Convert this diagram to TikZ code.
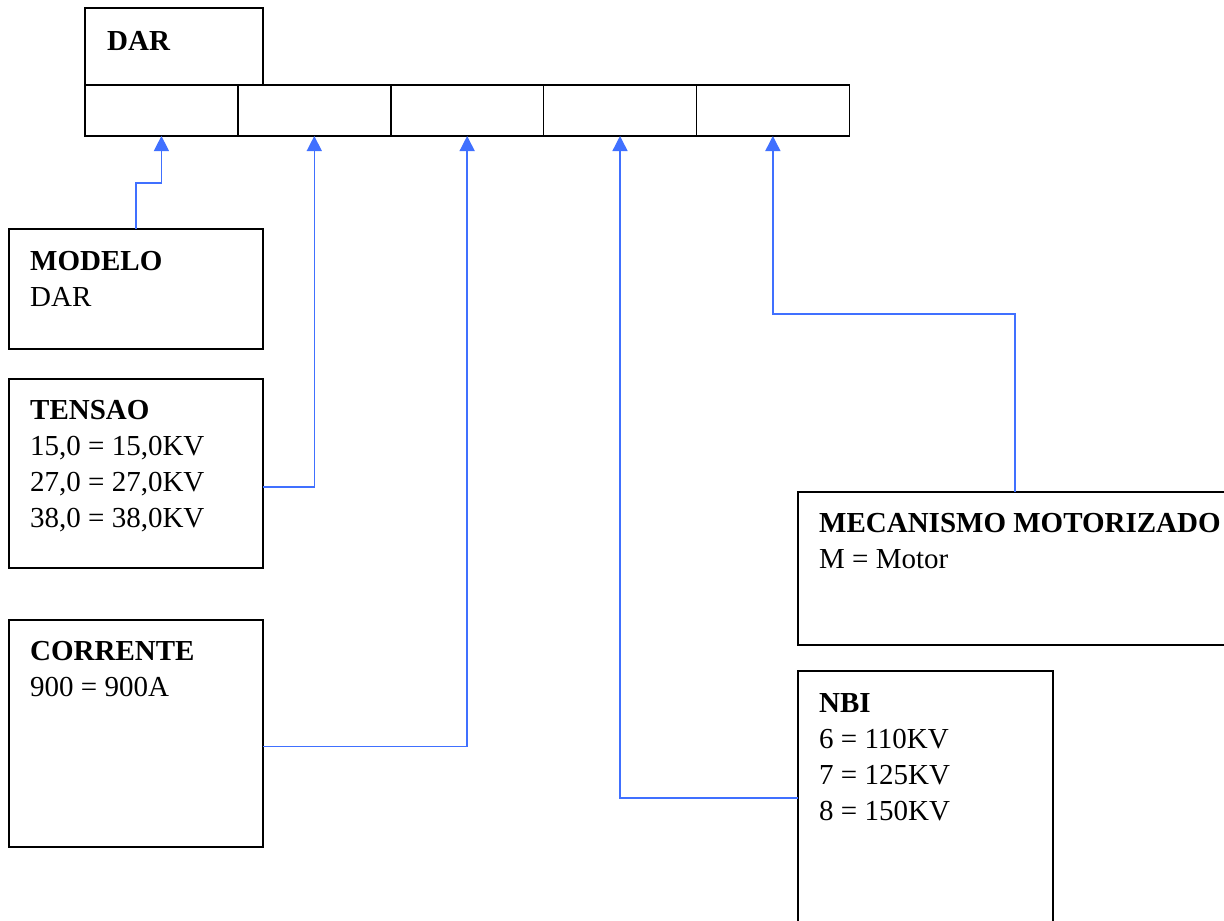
\documentclass[tikz,border=0pt]{standalone}
\usepackage{fontspec}
\setmainfont{Liberation Serif}
\usetikzlibrary{arrows.meta}
\definecolor{linkblue}{RGB}{64,112,255}
\begin{document}
\begin{tikzpicture}[x=1pt,y=-1pt,
  box/.style={draw=black,line width=1.6pt,rectangle,anchor=north west,inner sep=0pt,outer sep=0pt},
  txt/.style={anchor=base west,align=left,inner sep=0pt,font=\fontsize{29}{36}\selectfont},
  arr/.style={draw=linkblue,line width=1.4pt,-{Triangle[length=15pt,width=15pt]}}
]
\useasboundingbox (0,0) rectangle (1224,921);
\clip (0,0) rectangle (1224,921);
\fill[white] (0,0) rectangle (1224,921);

% top boxes
\node[box,minimum width=178pt,minimum height=77pt] (dar) at (85,8) {};
\foreach \i in {1,...,5}
  \node[box,minimum width=152.86pt,minimum height=51pt] (c\i) at ({85+152.86*(\i-1)},85) {};
\node[txt] (dart) at ([shift={(22pt,-42pt)}]dar.north west) {\textbf{DAR}};

% description boxes
\node[box,minimum width=254pt,minimum height=120pt] (modelo) at (9,229) {};
\node[box,minimum width=254pt,minimum height=189pt] (tensao) at (9,379) {};
\node[box,minimum width=254pt,minimum height=227pt] (corrente) at (9,620) {};
\node[box,minimum width=434pt,minimum height=153pt] (mec) at (798,492) {};
\node[box,minimum width=255pt,minimum height=300pt] (nbi) at (798,671) {};

% (base anchor = baseline of the last line)
\node[txt] (modelot) at ([shift={(21pt,-77pt)}]modelo.north west) {\textbf{MODELO}\\DAR};
\node[txt] (tensaot) at ([shift={(21pt,-148pt)}]tensao.north west) {\textbf{TENSAO}\\15,0 = 15,0KV\\27,0 = 27,0KV\\38,0 = 38,0KV};
\node[txt] (correntet) at ([shift={(21pt,-76pt)}]corrente.north west) {\textbf{CORRENTE}\\900 = 900A};
\node[txt] (mect) at ([shift={(21pt,-76pt)}]mec.north west) {\textbf{MECANISMO MOTORIZADO}\\M = Motor};
\node[txt] (nbit) at ([shift={(21pt,-149pt)}]nbi.north west) {\textbf{NBI}\\6 = 110KV\\7 = 125KV\\8 = 150KV};

% connectors
\draw[arr] (modelo.north) -- ++(0,-46) -| (c1.south);
\draw[arr] ([yshift=-13.5pt]tensao.east) -| (c2.south);
\draw[arr] ([yshift=-13pt]corrente.east) -| (c3.south);
\draw[arr] ([yshift=-127pt]nbi.north west) -| (c4.south);
\draw[arr] (mec.north) -- ++(0,-178) -| (c5.south);
\end{tikzpicture}
\end{document}
